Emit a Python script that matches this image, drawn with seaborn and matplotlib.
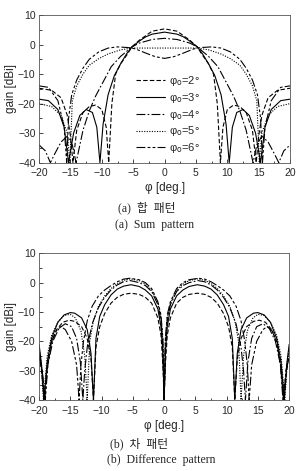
import numpy as np
import pandas as pd
import seaborn as sns
import matplotlib.pyplot as plt
from matplotlib.lines import Line2D

# half patterns (phi >= 0), the curves are symmetric about 0
cases = ['2', '3', '4', '5', '6']

# (a) sum pattern
sum_phi_2 = [0, 2, 4, 5.2, 6, 7, 7.8, 8.4, 8.9, 9.3, 10, 11, 12, 13, 14, 14.6, 15.0, 15.5, 16.5, 18, 20]
sum_gain_2 = [5.3, 4.5, 1.5, -0.8, -3.5, -6.5, -10, -20, -40, -28, -22, -20.5, -21, -23, -29, -40, -31, -24, -18, -15.5, -14.8]
sum_phi_3 = [0, 2, 3, 4, 5.2, 6, 7, 8, 9, 9.8, 10.3, 10.8, 11.5, 12.5, 13.5, 14.5, 15.3, 16, 17, 18.5, 20]
sum_gain_3 = [4.2, 3.5, 2.6, 1.2, -0.8, -3, -6.5, -10.5, -17, -27, -40, -28, -23, -22, -24, -30, -40, -28, -22, -19, -18.5]
sum_phi_4 = [0, 2, 4, 5.2, 7, 8.5, 10, 11, 12, 13, 13.7, 14.1, 14.7, 15.5, 16.5, 17.5, 18.2, 19, 20]
sum_gain_4 = [2.1, 1.7, 0.5, -0.8, -4, -7.5, -13.5, -17.5, -22.5, -29, -36, -40, -34, -31, -33, -37, -40, -36, -34]
sum_phi_5 = [0, 2, 4, 5.2, 7, 9, 10.5, 12, 13, 14, 14.7, 15.1, 15.5, 16.5, 18, 20]
sum_gain_5 = [-1.2, -1.2, -1.2, -1.2, -1.8, -3.2, -4.8, -7, -10, -14, -19, -40, -30, -24, -21, -20]
sum_phi_6 = [0, 1.5, 3, 4.5, 5.2, 6, 7.5, 9, 10.5, 12, 13, 14, 14.8, 15.3, 15.6, 16, 17, 18.5, 20]
sum_gain_6 = [-4.7, -4.1, -2.9, -1.6, -1.2, -1, -0.8, -1.2, -2.5, -5, -8, -12, -17, -25, -40, -28, -19, -14.5, -14]

# (b) difference pattern
dif_phi_2 = [0, 0.2, 0.5, 1, 2, 3, 4, 5.3, 6.5, 7.5, 8.5, 9.5, 10.3, 10.9, 11.3, 11.7, 12.3, 13.2, 14.3, 15.2, 16.2, 17.2, 18.1, 18.8, 19.2, 19.6, 20]
dif_gain_2 = [-40, -28, -18, -12, -7, -5, -4, -3.6, -4, -5, -7, -10.5, -15, -22, -40, -26, -19, -15, -13.2, -12.8, -13.5, -16, -21, -30, -40, -30, -25]
dif_phi_3 = [0, 0.2, 0.5, 1, 2, 3, 4, 5.3, 6.5, 7.5, 8.5, 9.5, 10.3, 10.9, 11.3, 11.7, 12.3, 13.2, 14.3, 15.0, 16.0, 17.0, 18.0, 18.7, 19.2, 19.6, 20]
dif_gain_3 = [-40, -24, -15, -9, -4.5, -2.5, -1.3, -0.7, -1.2, -2.2, -4.2, -7.5, -11.5, -19, -40, -24, -16, -12, -10.4, -10.2, -11, -13.5, -19, -27, -40, -28, -21]
dif_phi_4 = [0, 0.2, 0.5, 1, 2, 3, 4, 5.4, 6.5, 7.5, 8.5, 9.5, 10.5, 11.5, 12.3, 12.7, 13.0, 13.4, 14.0, 14.8, 15.8, 16.8, 17.8, 18.6, 19.1, 19.5, 20]
dif_gain_4 = [-40, -22, -13, -7.5, -3, -1, 0, 0.7, 0.3, -0.8, -2.5, -5, -8.5, -14, -22, -30, -40, -27, -19, -15, -14, -15.5, -20, -28, -40, -30, -25]
dif_phi_5 = [0, 0.2, 0.5, 1, 2, 3, 4, 5.4, 6.5, 7.5, 8.5, 9.5, 10.5, 11.3, 11.9, 12.3, 12.7, 13.3, 14.2, 15.0, 16.0, 17.0, 18.0, 18.7, 19.3, 19.7, 20]
dif_gain_5 = [-40, -20, -12, -7, -2.5, -0.5, 0.7, 1.3, 0.8, -0.3, -2, -4.5, -8, -13, -20, -40, -25, -16.5, -12, -10.8, -11.2, -13.5, -18, -25, -40, -27, -22]
dif_phi_6 = [0, 0.2, 0.5, 1, 2, 3, 4, 5.5, 6.5, 7.5, 8.5, 9.5, 10.5, 11.5, 12.3, 12.9, 13.3, 13.6, 14.0, 14.8, 15.8, 16.5, 17.3, 18.0, 18.6, 19.0, 19.5, 20]
dif_gain_6 = [-40, -19, -11, -6.5, -2, 0, 1, 1.5, 1.2, 0.3, -1, -2.5, -4.5, -8, -13, -20, -28, -40, -28, -20, -16, -15, -16.5, -20, -28, -40, -30, -24]

sum_data = {'2': (sum_phi_2, sum_gain_2), '3': (sum_phi_3, sum_gain_3), '4': (sum_phi_4, sum_gain_4),
            '5': (sum_phi_5, sum_gain_5), '6': (sum_phi_6, sum_gain_6)}
dif_data = {'2': (dif_phi_2, dif_gain_2), '3': (dif_phi_3, dif_gain_3), '4': (dif_phi_4, dif_gain_4),
            '5': (dif_phi_5, dif_gain_5), '6': (dif_phi_6, dif_gain_6)}

dash_map = {'2': (4, 2), '3': '', '4': (8, 2, 1.5, 2), '5': (1, 1.3), '6': (8, 2, 2.5, 2, 2.5, 2)}


def to_frame(data):
    rows = []
    for c in cases:
        phi, gain = data[c]
        full_phi = [-p for p in phi[::-1]] + list(phi[1:])
        full_gain = list(gain[::-1]) + list(gain[1:])
        rows.append(pd.DataFrame({'phi': full_phi, 'gain': full_gain, 'case': c}))
    return pd.concat(rows, ignore_index=True)


sns.set_style('ticks')
plt.rcParams['font.family'] = ['Liberation Sans', 'DejaVu Sans']
plt.rcParams['mathtext.fontset'] = 'dejavusans'

fig = plt.figure(figsize=(2.96, 4.71), dpi=100)
ax1 = fig.add_axes([0.132, 0.6546, 0.848, 0.3136])
ax2 = fig.add_axes([0.132, 0.1507, 0.845, 0.3115])

for ax, data in [(ax1, sum_data), (ax2, dif_data)]:
    df = to_frame(data)
    sns.lineplot(data=df, x='phi', y='gain', style='case', dashes=dash_map, color='black',
                 linewidth=0.8, estimator=None, sort=False, legend=False, ax=ax)
    ax.set_xlim(-20, 20)
    ax.set_ylim(-40, 10)
    ax.set_xticks(np.arange(-20, 21, 5))
    ax.set_yticks(np.arange(-40, 11, 10))
    ax.set_xticks(np.arange(-17.5, 20, 5), minor=True)
    ax.set_yticks(np.arange(-35, 10, 10), minor=True)
    ax.tick_params(which='both', direction='in', labelsize=7.5, width=0.6)
    ax.tick_params(axis='x', pad=4)
    ax.tick_params(axis='y', pad=2.5)
    ax.tick_params(which='major', length=3)
    ax.tick_params(which='minor', length=1.8)
    for sp in ax.spines.values():
        sp.set_linewidth(0.6)
        sp.set_color('#555555')
    ax.set_xlabel('φ [deg.]', fontsize=8.5, labelpad=3)
    ax.set_ylabel('gain [dBi]', fontsize=8.5, labelpad=1)

handles = []
for c in cases:
    h = Line2D([], [], color='black', linewidth=0.8)
    if dash_map[c]:
        h.set_dashes(dash_map[c])
    handles.append(h)
labels = ['φ$_\\mathrm{o}$=' + c + '°' for c in cases]
ax1.legend(handles, labels, loc='upper left', bbox_to_anchor=(0.385, 0.6), frameon=False,
           fontsize=8, handlelength=2.6, handletextpad=0.4, labelspacing=0.25, borderpad=0,
           borderaxespad=0)

cap = ['Liberation Serif', 'Noto Sans CJK KR']
fig.text(0.495, 1 - 208 / 471, '(a)  합  패턴', family=cap, fontsize=8.5, ha='center', va='center')
fig.text(0.523, 1 - 225 / 471, '(a)  Sum  pattern', family=cap, fontsize=8.5, ha='center', va='center')
fig.text(0.47, 1 - 444 / 471, '(b)  차  패턴', family=cap, fontsize=8.5, ha='center', va='center')
fig.text(0.545, 1 - 460 / 471, '(b)  Difference  pattern', family=cap, fontsize=8.5, ha='center', va='center')

fig.savefig('out.png', dpi=100)
